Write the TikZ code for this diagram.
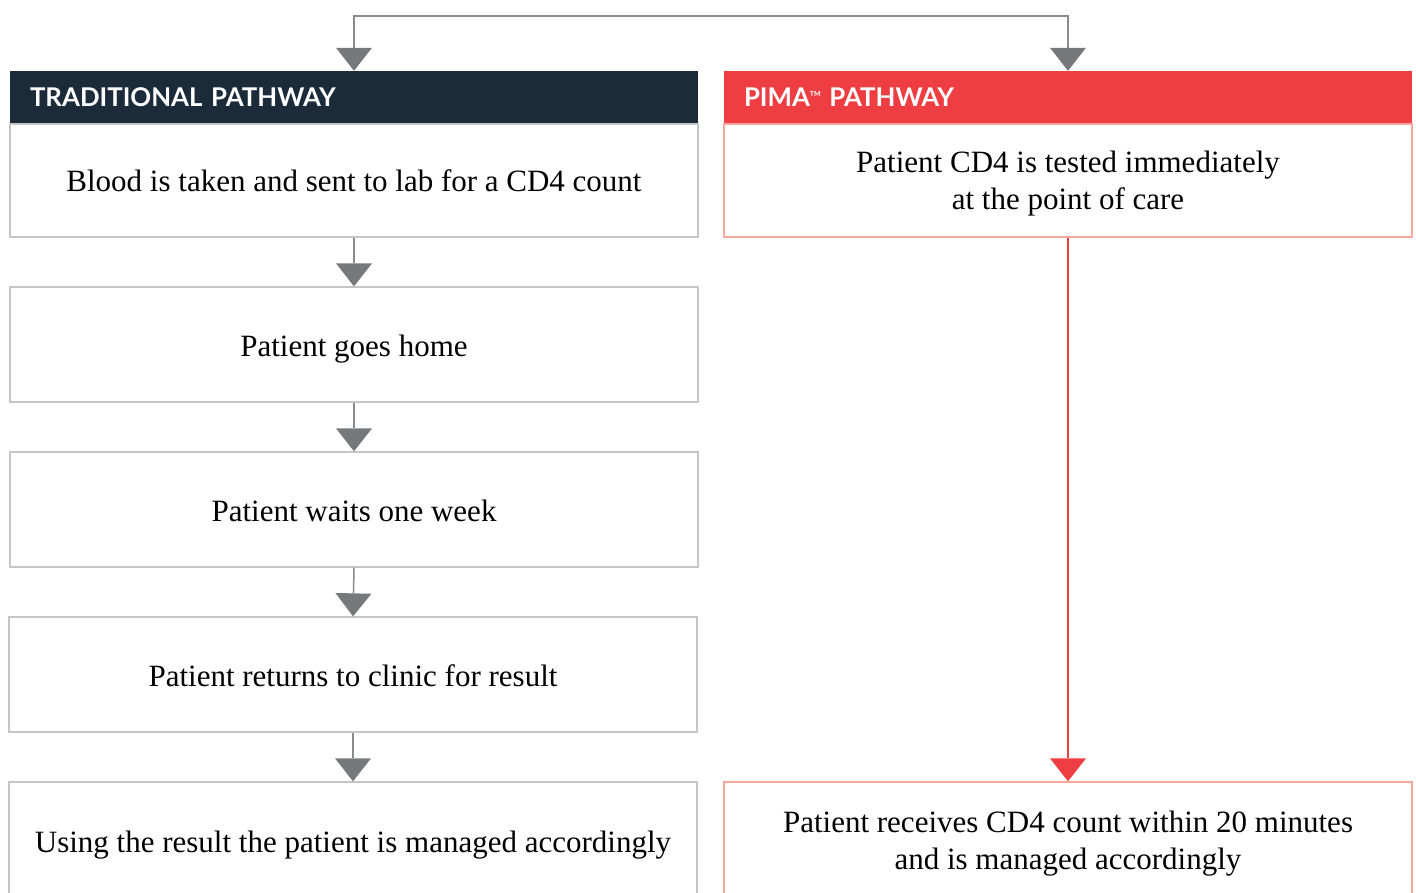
\documentclass[tikz,border=0pt]{standalone}
\usepackage{fontspec}
\setmainfont{Liberation Serif}
\newfontfamily\headfont{Lato}
\usetikzlibrary{arrows.meta}
\definecolor{navy}{HTML}{1C2B3A}
\definecolor{pimared}{HTML}{EF3E42}
\definecolor{grayline}{HTML}{8A8B8E}
\definecolor{graytip}{HTML}{77787B}
\definecolor{grayborder}{HTML}{C6C6C6}
\definecolor{redborder}{HTML}{F6A89E}
\tikzset{
  bodyfont/.style={font=\fontsize{31}{37}\selectfont},
  stepbox/.style={draw=grayborder, line width=1.3pt, fill=white, rectangle, minimum width=688pt, inner sep=0pt},
  pimabox/.style={stepbox, draw=redborder},
  steptext/.style={bodyfont, anchor=base, inner sep=0pt},
  header/.style={rectangle, minimum width=688pt, minimum height=53pt, text width=648pt, inner xsep=20pt, inner ysep=0pt, align=left, text=white, font=\headfont\bfseries\fontsize{25.8}{26}\selectfont},
  grayarrow/.style={-{Triangle[width=36pt,length=23pt,color=graytip,fill=graytip,line width=0pt]}, draw=grayline, line width=1.5pt},
  grayboth/.style={{Triangle[width=36pt,length=23pt,color=graytip,fill=graytip,line width=0pt]}-{Triangle[width=36pt,length=23pt,color=graytip,fill=graytip,line width=0pt]}, draw=grayline, line width=1.5pt},
  redarrow/.style={-{Triangle[width=36pt,length=23pt,color=pimared,fill=pimared,line width=0pt]}, draw=pimared, line width=1.3pt},
}
\begin{document}
\begin{tikzpicture}[x=1pt,y=-1pt]
\useasboundingbox (0,0) rectangle (1416,892);
% left column
\node[header, fill=navy] (hl) at (354,97.5) {TRADITIONAL PATHWAY};
\node[stepbox, minimum height=113pt] (b1) at (354,180.5) {};
\node[steptext] (t1) at (354,191) {Blood is taken and sent to lab for a CD4 count};
\node[stepbox, minimum height=115pt] (b2) at (354,344.5) {};
\node[steptext] (t2) at (354,356) {Patient goes home};
\node[stepbox, minimum height=115pt] (b3) at (354,509.5) {};
\node[steptext] (t3) at (354,521) {Patient waits one week};
\node[stepbox, minimum height=115pt] (b4) at (353,674.5) {};
\node[steptext] (t4) at (353,686) {Patient returns to clinic for result};
\node[stepbox, minimum height=130pt] (b5) at (353,847) {};
\node[steptext] (t5) at (353,852) {Using the result the patient is managed accordingly};
% right column
\node[header, fill=pimared] (hr) at (1068,97.5) {PIMA{\fontsize{7}{7}\selectfont\raisebox{10pt}{TM}} PATHWAY};
\node[pimabox, minimum height=113pt] (r1) at (1068,180.5) {};
\node[bodyfont, align=center, inner sep=0pt] (t6) at (1068,183.5) {Patient CD4 is tested immediately\\at the point of care};
\node[pimabox, minimum height=130pt] (r2) at (1068,847) {};
\node[bodyfont, align=center, inner sep=0pt] (t7) at (1068,843.5) {Patient receives CD4 count within 20 minutes\\and is managed accordingly};
% connectors
\coordinate (tl) at (354,16);
\coordinate (tr) at (1068,16);
\draw[grayboth] (hl.north) -- (tl) -- (tr) -- (hr.north);
\draw[grayarrow] (b1.south) -- (b2.north);
\draw[grayarrow] (b2.south) -- (b3.north);
\draw[grayarrow] (b3.south) -- (b4.north);
\draw[grayarrow] (b4.south) -- (b5.north);
\draw[redarrow] (r1.south) -- (r2.north);
\end{tikzpicture}
\end{document}
